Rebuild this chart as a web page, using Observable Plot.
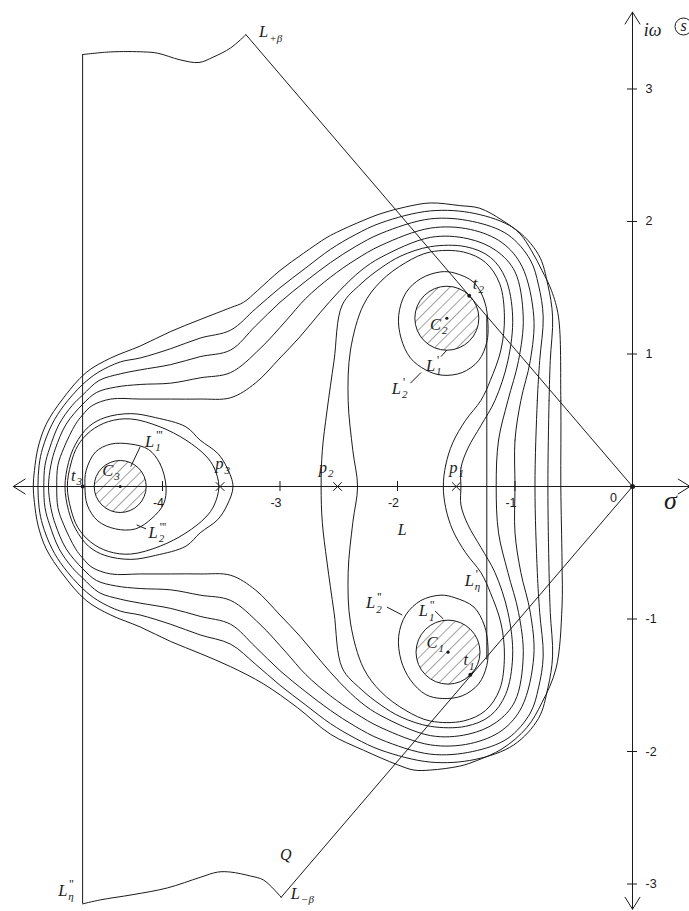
<!DOCTYPE html>
<html><head><meta charset="utf-8">
<script src="https://cdn.jsdelivr.net/npm/d3@7"></script>
<script src="https://cdn.jsdelivr.net/npm/@observablehq/plot@0.6"></script>
<style>html,body{margin:0;padding:0;background:#fff;} svg{display:block;} svg text{-webkit-font-smoothing:antialiased;}</style>
</head><body><div id="chart"></div>
<script>
// ---- data (σ, ω) ----
const rootsC12 = [[-1.58, 1.27], [-1.57, -1.25]];   // C2, C1
const rootC3 = [[-4.36, 0]];                          // C3
const poles = [[-1.50, 0], [-2.51, 0], [-3.51, 0]];    // p1, p2, p3
const tPoints = [[-1.38, -1.42], [-1.39, 1.44], [-4.68, 0]]; // t1, t2, t3
const origin = [[0, 0]];

const O5 = [[-0.61,0],[-0.61,0.65],[-0.63,1.28],[-0.69,1.48],[-0.77,1.63],[-0.86,1.78],[-0.96,1.91],[-1.11,2.01],[-1.30,2.10],[-1.47,2.12],[-1.72,2.14],[-1.93,2.11],[-2.14,2.06],[-2.34,1.99],[-2.49,1.93],[-2.60,1.88],[-2.80,1.76],[-3.00,1.63],[-3.19,1.48],[-3.31,1.39],[-3.42,1.35],[-3.68,1.26],[-3.93,1.17],[-4.19,1.06],[-4.44,0.97],[-4.65,0.86],[-4.85,0.66],[-4.99,0.47],[-5.06,0.29],[-5.09,0.12],[-5.10,0],
  [-5.09,-0.12],[-5.06,-0.29],[-4.99,-0.47],[-4.85,-0.66],[-4.65,-0.86],[-4.44,-0.97],[-4.19,-1.06],[-3.93,-1.17],[-3.68,-1.26],[-3.42,-1.36],[-3.14,-1.49],[-2.85,-1.67],[-2.57,-1.87],[-2.29,-1.99],[-2.00,-2.10],[-1.86,-2.14],[-1.72,-2.14],[-1.47,-2.11],[-1.33,-2.07],[-1.11,-1.98],[-0.90,-1.82],[-0.77,-1.63],[-0.65,-1.37],[-0.60,-0.91],[-0.60,-0.56]];
const O4 = [[-0.72,0],[-0.71,0.65],[-0.70,0.95],[-0.68,1.28],[-0.72,1.52],[-0.80,1.75],[-1.01,1.95],[-1.34,2.06],[-1.72,2.08],[-2.14,1.99],[-2.36,1.90],[-2.57,1.79],[-2.78,1.65],[-3.00,1.50],[-3.21,1.34],[-3.42,1.18],[-3.68,1.12],[-3.93,1.04],[-4.19,0.97],[-4.36,0.94],[-4.55,0.86],[-4.68,0.77],[-4.84,0.61],[-4.94,0.47],[-5.02,0.29],[-5.05,0.16],[-5.06,0],
  [-5.05,-0.16],[-5.02,-0.29],[-4.94,-0.47],[-4.84,-0.61],[-4.68,-0.77],[-4.55,-0.86],[-4.36,-0.94],[-4.19,-0.97],[-3.93,-1.04],[-3.68,-1.12],[-3.42,-1.19],[-3.21,-1.34],[-3.00,-1.50],[-2.78,-1.65],[-2.57,-1.79],[-2.36,-1.90],[-2.14,-1.99],[-1.72,-2.08],[-1.34,-2.06],[-1.01,-1.95],[-0.80,-1.75],[-0.72,-1.52],[-0.68,-1.28],[-0.70,-0.95],[-0.71,-0.65]];
const O3 = [[-0.83,0],[-0.81,0.65],[-0.79,0.95],[-0.76,1.28],[-0.80,1.52],[-0.87,1.71],[-1.06,1.90],[-1.36,2.00],[-1.72,2.02],[-2.14,1.91],[-2.36,1.81],[-2.57,1.69],[-2.78,1.55],[-3.00,1.39],[-3.21,1.21],[-3.42,1.03],[-3.68,0.98],[-3.93,0.92],[-4.19,0.88],[-4.36,0.85],[-4.54,0.80],[-4.68,0.69],[-4.77,0.61],[-4.88,0.47],[-4.96,0.29],[-5.00,0.16],[-5.01,0],
  [-5.00,-0.16],[-4.96,-0.29],[-4.88,-0.47],[-4.77,-0.61],[-4.68,-0.69],[-4.54,-0.80],[-4.36,-0.85],[-4.19,-0.88],[-3.93,-0.92],[-3.68,-0.98],[-3.42,-1.04],[-3.21,-1.21],[-3.00,-1.39],[-2.78,-1.55],[-2.57,-1.69],[-2.36,-1.81],[-2.14,-1.91],[-1.72,-2.02],[-1.36,-2.00],[-1.06,-1.90],[-0.87,-1.71],[-0.80,-1.52],[-0.76,-1.28],[-0.79,-0.95],[-0.81,-0.65]];
const O2 = [[-1.00,0],[-1.00,0.35],[-0.95,0.65],[-0.87,0.95],[-0.84,1.28],[-0.94,1.66],[-1.11,1.84],[-1.38,1.94],[-1.72,1.95],[-2.14,1.82],[-2.36,1.71],[-2.57,1.58],[-2.78,1.42],[-2.95,1.25],[-3.17,1.04],[-3.42,0.86],[-3.68,0.82],[-3.93,0.78],[-4.19,0.77],[-4.40,0.75],[-4.56,0.71],[-4.68,0.62],[-4.82,0.47],[-4.91,0.29],[-4.95,0.16],[-4.97,0],
  [-4.95,-0.16],[-4.91,-0.29],[-4.82,-0.47],[-4.68,-0.62],[-4.56,-0.71],[-4.40,-0.75],[-4.19,-0.77],[-3.93,-0.78],[-3.68,-0.82],[-3.42,-0.86],[-3.17,-1.04],[-2.95,-1.25],[-2.78,-1.42],[-2.57,-1.58],[-2.36,-1.71],[-2.14,-1.82],[-1.72,-1.95],[-1.38,-1.94],[-1.11,-1.84],[-0.94,-1.66],[-0.84,-1.28],[-0.87,-0.95],[-0.95,-0.65],[-1.00,-0.35]];
const O1 = [[-1.16,0],[-1.14,0.35],[-1.06,0.65],[-0.97,0.95],[-0.93,1.28],[-1.00,1.62],[-1.16,1.78],[-1.40,1.87],[-1.72,1.88],[-2.14,1.73],[-2.31,1.63],[-2.49,1.48],[-2.66,1.31],[-2.83,1.13],[-3.00,0.97],[-3.21,0.78],[-3.42,0.67],[-3.68,0.66],[-3.93,0.66],[-4.19,0.66],[-4.44,0.66],[-4.60,0.61],[-4.68,0.54],[-4.74,0.47],[-4.84,0.29],[-4.89,0.16],[-4.90,0],
  [-4.89,-0.16],[-4.84,-0.29],[-4.74,-0.47],[-4.68,-0.54],[-4.60,-0.61],[-4.44,-0.66],[-4.19,-0.66],[-3.93,-0.66],[-3.68,-0.66],[-3.42,-0.67],[-3.21,-0.78],[-3.00,-0.97],[-2.83,-1.13],[-2.66,-1.31],[-2.49,-1.48],[-2.31,-1.63],[-2.14,-1.73],[-1.72,-1.88],[-1.40,-1.87],[-1.16,-1.78],[-1.00,-1.62],[-0.93,-1.28],[-0.97,-0.95],[-1.06,-0.65],[-1.14,-0.35]];
const M = [[-1.46,0],[-1.46,0.14],[-1.40,0.29],[-1.29,0.46],[-1.17,0.65],[-1.06,0.95],[-1.02,1.28],[-1.08,1.57],[-1.21,1.73],[-1.42,1.81],[-1.72,1.81],[-1.97,1.74],[-2.14,1.65],[-2.31,1.53],[-2.47,1.37],[-2.54,0.95],[-2.60,0.57],[-2.64,0.27],[-2.65,0],
  [-2.64,-0.27],[-2.60,-0.57],[-2.54,-0.95],[-2.47,-1.37],[-2.31,-1.53],[-2.14,-1.65],[-1.97,-1.74],[-1.72,-1.81],[-1.42,-1.81],[-1.21,-1.73],[-1.08,-1.57],[-1.02,-1.28],[-1.06,-0.95],[-1.17,-0.65],[-1.29,-0.46],[-1.40,-0.29],[-1.46,-0.14]];
const Lcurve = [[-1.61,0],[-1.59,0.16],[-1.53,0.33],[-1.42,0.50],[-1.29,0.65],[-1.21,0.80],[-1.12,1.03],[-1.09,1.28],[-1.13,1.53],[-1.25,1.69],[-1.44,1.77],[-1.72,1.77],[-1.93,1.69],[-2.14,1.55],[-2.29,1.37],[-2.40,1.03],[-2.42,0.65],[-2.38,0.27],[-2.34,0],
  [-2.38,-0.27],[-2.42,-0.65],[-2.40,-1.03],[-2.29,-1.37],[-2.14,-1.55],[-1.93,-1.69],[-1.72,-1.77],[-1.44,-1.77],[-1.25,-1.69],[-1.13,-1.53],[-1.09,-1.28],[-1.12,-1.03],[-1.21,-0.80],[-1.29,-0.65],[-1.42,-0.50],[-1.53,-0.33],[-1.59,-0.16]];
const ovalB = [[-3.40,0],[-3.45,0.14],[-3.53,0.25],[-3.68,0.35],[-3.80,0.45],[-4.06,0.52],[-4.27,0.55],[-4.49,0.52],[-4.63,0.45],[-4.74,0.32],[-4.80,0.18],[-4.83,0],[-4.80,-0.18],[-4.74,-0.32],[-4.63,-0.45],[-4.49,-0.52],[-4.27,-0.55],[-4.06,-0.52],[-3.80,-0.45],[-3.68,-0.35],[-3.53,-0.25],[-3.45,-0.14]];
const ovalA = [[-3.52,0],[-3.56,0.14],[-3.63,0.23],[-3.80,0.35],[-4.02,0.45],[-4.27,0.51],[-4.46,0.49],[-4.61,0.42],[-4.72,0.31],[-4.78,0.17],[-4.81,0],[-4.78,-0.17],[-4.72,-0.31],[-4.61,-0.42],[-4.46,-0.49],[-4.27,-0.51],[-4.02,-0.45],[-3.80,-0.35],[-3.63,-0.23],[-3.56,-0.14]];
const L2c3 = [[-3.97,0],[-4.02,0.17],[-4.12,0.28],[-4.27,0.32],[-4.44,0.32],[-4.57,0.26],[-4.65,0.12],[-4.66,0],[-4.64,-0.14],[-4.55,-0.26],[-4.40,-0.32],[-4.23,-0.32],[-4.09,-0.24],[-3.99,-0.13]];
const L2c2 = [[-1.23,1.23],[-1.26,1.40],[-1.35,1.54],[-1.51,1.61],[-1.63,1.62],[-1.80,1.57],[-1.93,1.46],[-1.99,1.29],[-1.97,1.12],[-1.89,0.97],[-1.76,0.88],[-1.62,0.84],[-1.45,0.86],[-1.31,0.95],[-1.24,1.09]];
const L2c1 = [[-1.23,-1.21],[-1.26,-1.05],[-1.35,-0.91],[-1.51,-0.84],[-1.63,-0.82],[-1.80,-0.86],[-1.93,-0.97],[-1.99,-1.13],[-1.97,-1.31],[-1.89,-1.46],[-1.76,-1.57],[-1.62,-1.60],[-1.45,-1.58],[-1.31,-1.49],[-1.24,-1.35]];

const qTop = [[-4.68,3.26],[-4.44,3.28],[-4.16,3.28],[-4.04,3.27],[-3.85,3.22],[-3.69,3.20],[-3.57,3.24],[-3.42,3.31],[-3.29,3.41]];
const qBottom = [[-2.99,-3.10],[-3.14,-2.97],[-3.25,-2.94],[-3.42,-2.91],[-3.53,-2.91],[-3.68,-2.95],[-3.96,-3.03],[-4.25,-3.08],[-4.53,-3.12],[-4.68,-3.15]];
const betaRays = [[-3.29,3.41],[0,0],[-2.99,-3.10]];
const etaLines = [{x:-4.68, y1:-3.15, y2:3.26}, {x:-1.24, y1:-1.31, y2:1.29}];
const axisEnds = [{x2:-5.27, y2:0}, {x2:0.49, y2:0}, {x2:0, y2:3.58}, {x2:0, y2:-3.19}];

const xTicks = [-4, -3, -2, -1];
const xTickLabels = ["-4", "-3", "-2", "-1"];
const yTicks = [3, 2, 1, -1, -2, -3];
const yTickLabels = ["3", "2", "1", "-1", "-2", "-3"];

// main, subscript, superscript, σ, ω
const labels = [
  ["L","+β","",-3.10,3.43],
  ["L","−β","",-2.83,-3.07],
  ["L","η","''",-4.81,-3.05],
  ["L","η","'",-1.35,-0.71],
  ["L","1","'",-1.68,0.91],
  ["L","2","'",-1.97,0.74],
  ["L","1","''",-1.74,-0.94],
  ["L","2","''",-2.19,-0.88],
  ["L","1","'''",-4.07,0.34],
  ["L","2","'''",-4.04,-0.35],
  ["C","1","",-1.66,-1.18],
  ["C","2","",-1.63,1.22],
  ["C","3","",-4.42,0.12],
  ["p","1","",-1.49,0.14],
  ["p","2","",-2.60,0.14],
  ["p","3","",-3.48,0.17],
  ["t","1","",-1.40,-1.31],
  ["t","2","",-1.32,1.53],
  ["t","3","",-4.74,0.08]
];
const plainLabels = [["Q",-2.95,-2.78],["L",-1.96,-0.33]];
const leaders = [
  {x1:-1.63,y1:0.98,x2:-1.58,y2:1.03},
  {x1:-1.89,y1:0.78,x2:-1.80,y2:0.86},
  {x1:-1.68,y1:-0.94,x2:-1.61,y2:-1.00},
  {x1:-2.09,y1:-0.91,x2:-1.96,y2:-0.97},
  {x1:-4.19,y1:0.30,x2:-4.27,y2:0.15},
  {x1:-4.14,y1:-0.32,x2:-4.22,y2:-0.29}
];

// ---- drawing ----
const INK = "#1b1b1b";
const serif = "'Liberation Serif','Times New Roman',serif";
const sans = "'Liberation Sans',Arial,sans-serif";
const xy = {x: d => d[0], y: d => d[1]};
const closed = pts => Plot.line(pts, {...xy, curve: "catmull-rom-closed", stroke: INK, strokeWidth: 1});

const svg = Plot.plot({
  width: 689, height: 911, margin: 0,
  x: {domain: [-5.3787, 0.4851], axis: null},
  y: {domain: [-3.2075, 3.6679], axis: null},
  style: {background: "#fff"},
  marks: [
    Plot.dot(rootsC12, {...xy, r: 32, fill: "url(#hatch)", stroke: INK, strokeWidth: 1}),
    Plot.dot(rootC3, {...xy, r: 26, fill: "url(#hatch)", stroke: INK, strokeWidth: 1}),
    ...[O5, O4, O3, O2, O1, M, Lcurve, ovalB, ovalA, L2c3, L2c2, L2c1].map(closed),
    Plot.line(qTop, {...xy, curve: "catmull-rom", stroke: INK, strokeWidth: 1}),
    Plot.line(qBottom, {...xy, curve: "catmull-rom", stroke: INK, strokeWidth: 1}),
    Plot.line(betaRays, {...xy, stroke: INK, strokeWidth: 1}),
    Plot.ruleX(etaLines, {x: "x", y1: "y1", y2: "y2", stroke: INK, strokeWidth: 1}),
    Plot.arrow(axisEnds, {x1: d => 0, y1: d => 0, x2: "x2", y2: "y2", stroke: INK, strokeWidth: 1, headLength: 21, headAngle: 64}),
    Plot.ruleX(xTicks, {x: d => d, y1: d => 0, y2: d => 0, insetTop: -5, insetBottom: -5, stroke: INK}),
    Plot.ruleY(yTicks, {y: d => d, x1: d => 0, x2: d => 0, insetLeft: -5, insetRight: -5, stroke: INK}),
    Plot.text(xTicks, {x: d => d, y: d => 0, text: (d, i) => xTickLabels[i], dx: -4, dy: 16, fontFamily: sans, fontSize: 12.5, fill: INK}),
    Plot.text(yTicks, {x: d => 0, y: d => d, text: (d, i) => yTickLabels[i], dx: 13, textAnchor: "start", fontFamily: sans, fontSize: 12.5, fill: INK}),
    Plot.text(origin, {...xy, text: d => "0", dx: -19, dy: 11, fontFamily: sans, fontSize: 12.5, fill: INK}),
    Plot.dot(poles, {...xy, symbol: "times", r: 4, stroke: INK, strokeWidth: 1}),
    Plot.dot(tPoints, {...xy, r: 2, fill: INK}),
    Plot.dot([...rootsC12, ...rootC3], {...xy, r: 1.6, fill: INK}),
    Plot.dot(origin, {...xy, r: 2.5, fill: INK}),
    Plot.link(leaders, {x1: "x1", y1: "y1", x2: "x2", y2: "y2", stroke: INK, strokeWidth: 1}),
    Plot.text(labels, {x: d => d[3], y: d => d[4], text: d => d[0], textAnchor: "end", fontFamily: serif, fontStyle: "italic", fontSize: 16.5, fill: INK}),
    Plot.text(labels, {x: d => d[3], y: d => d[4], text: d => d[1], textAnchor: "start", dx: 1, dy: 6, fontFamily: serif, fontStyle: "italic", fontSize: 11, fill: INK}),
    Plot.text(labels, {x: d => d[3], y: d => d[4], text: d => d[2], textAnchor: "start", dx: 2, dy: -6, fontFamily: serif, fontSize: 12, fill: INK}),
    Plot.text(plainLabels, {x: d => d[1], y: d => d[2], text: d => d[0], fontFamily: serif, fontStyle: "italic", fontSize: 16, fill: INK}),
    Plot.text(origin, {...xy, text: d => "σ", dx: 38, dy: 14, fontFamily: serif, fontStyle: "italic", fontSize: 26, fill: INK}),
    Plot.text(origin, {...xy, text: d => "iω", dx: 20, dy: -456, fontFamily: serif, fontStyle: "italic", fontSize: 18, fill: INK}),
    Plot.dot(origin, {...xy, dx: 51, dy: -460, r: 8.5, stroke: INK, strokeWidth: 1, fill: "none"}),
    Plot.text(origin, {...xy, text: d => "s", dx: 51, dy: -461, fontFamily: serif, fontStyle: "italic", fontSize: 16, fill: INK})
  ]
});

const ns = "http://www.w3.org/2000/svg";
const defs = document.createElementNS(ns, "defs");
const pat = document.createElementNS(ns, "pattern");
pat.setAttribute("id", "hatch");
pat.setAttribute("patternUnits", "userSpaceOnUse");
pat.setAttribute("width", "8");
pat.setAttribute("height", "8");
pat.setAttribute("patternTransform", "rotate(45)");
const bg = document.createElementNS(ns, "rect");
bg.setAttribute("width", "8"); bg.setAttribute("height", "8"); bg.setAttribute("fill", "#fff");
const ln = document.createElementNS(ns, "line");
ln.setAttribute("x1", "0"); ln.setAttribute("y1", "0"); ln.setAttribute("x2", "0"); ln.setAttribute("y2", "8");
ln.setAttribute("stroke", "#444"); ln.setAttribute("stroke-width", "1");
pat.appendChild(bg); pat.appendChild(ln); defs.appendChild(pat);
svg.insertBefore(defs, svg.firstChild);
document.getElementById("chart").appendChild(svg);
</script></body></html>
